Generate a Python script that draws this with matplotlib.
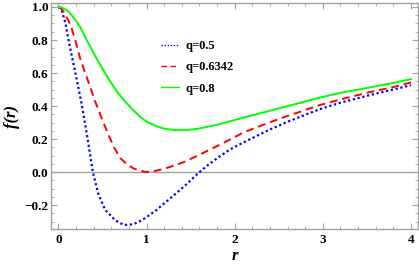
import matplotlib
matplotlib.use("Agg")
import matplotlib.pyplot as plt
from matplotlib.ticker import MultipleLocator

# values
r_q05 = [0, 0.02, 0.04, 0.08, 0.11, 0.16, 0.2, 0.26, 0.325, 0.39, 0.45, 0.53, 0.64, 0.7,
         0.75, 0.8, 0.85, 0.9, 0.98, 1.1, 1.2, 1.3, 1.43, 1.5, 1.6, 1.71, 1.83, 1.94,
         2.1, 2.39, 2.6, 2.96, 3.2, 3.53, 3.8, 4.0]
f_q05 = [1.0, 0.993, 0.975, 0.9, 0.81, 0.68, 0.58, 0.42, 0.22, 0.0, -0.129, -0.23, -0.29, -0.31,
         -0.32, -0.32, -0.315, -0.305, -0.28, -0.235, -0.19, -0.145, -0.085, -0.05, 0.0, 0.048, 0.095, 0.135,
         0.18, 0.255, 0.305, 0.38, 0.42, 0.466, 0.50, 0.526]

r_q06 = [0, 0.03, 0.06, 0.11, 0.15, 0.19, 0.245, 0.29, 0.35, 0.41, 0.48, 0.56, 0.63, 0.7,
         0.77, 0.85, 0.92, 1.0, 1.1, 1.2, 1.3, 1.43, 1.6, 1.83, 1.94, 2.1, 2.39, 2.6,
         2.96, 3.2, 3.53, 3.8, 4.0]
f_q06 = [1.0, 0.99, 0.97, 0.92, 0.87, 0.8, 0.69, 0.62, 0.53, 0.436, 0.34, 0.234, 0.15, 0.085,
         0.05, 0.022, 0.008, 0.0, 0.007, 0.02, 0.037, 0.062, 0.105, 0.165, 0.195, 0.24, 0.3, 0.34,
         0.405, 0.44, 0.484, 0.515, 0.543]

r_q08 = [0, 0.04, 0.08, 0.12, 0.15, 0.188, 0.25, 0.32, 0.37, 0.42, 0.5, 0.585, 0.66, 0.735,
         0.83, 0.925, 1.0, 1.11, 1.2, 1.32, 1.45, 1.6, 1.83, 2.1, 2.39, 2.96, 3.2, 3.53,
         3.8, 4.0]
f_q08 = [1.0, 0.996, 0.985, 0.97, 0.95, 0.925, 0.875, 0.8, 0.75, 0.7, 0.625, 0.55, 0.49, 0.44,
         0.385, 0.335, 0.305, 0.278, 0.263, 0.254, 0.254, 0.264, 0.29, 0.33, 0.37, 0.45, 0.48, 0.512,
         0.54, 0.563]

labels = ["q=0.5", "q=0.6342", "q=0.8"]

plt.rcParams['font.family'] = ['Liberation Serif', 'DejaVu Serif']
plt.rcParams['font.weight'] = 'bold'

fig = plt.figure(figsize=(4.19, 2.70), dpi=100)
ax = fig.add_axes([0.1217, 0.1507, 0.876, 0.8393])

gray = '#a0a0a0'
ax.axhline(0, color=gray, lw=1.0, zorder=1)

ax.plot(r_q05, f_q05, color='#0000ff', lw=1.6, linestyle=(0, (1, 1.2)), label=labels[0])
ax.plot(r_q06, f_q06, color='#ff0000', lw=1.4, linestyle=(0, (4, 2.5)), label=labels[1])
ax.plot(r_q08, f_q08, color='#00ff00', lw=1.4, label=labels[2])

ax.set_xlim(-0.085, 4.08)
ax.set_ylim(-0.347, 1.026)

ax.xaxis.set_major_locator(MultipleLocator(1))
ax.xaxis.set_minor_locator(MultipleLocator(0.2))
ax.yaxis.set_major_locator(MultipleLocator(0.2))
ax.yaxis.set_minor_locator(MultipleLocator(0.05))
ax.yaxis.set_major_formatter(plt.FuncFormatter(lambda v, p: f"{v:.1f}".replace('-', '\u2212')))

ax.tick_params(which='both', direction='in', top=True, right=True, color=gray,
               labelsize=9.5, labelcolor='black')
ax.tick_params(which='major', length=4.5, width=0.8)
ax.tick_params(which='minor', length=2.5, width=0.6)
ax.tick_params(axis='y', pad=2)
for s in ax.spines.values():
    s.set_color(gray)
    s.set_linewidth(1.0)

ax.set_xlabel('r', fontsize=12, style='italic', fontweight='bold', labelpad=1)
ax.set_ylabel('f(r)', fontsize=12, style='italic', fontweight='bold', labelpad=3)

leg = ax.legend(loc='upper left', bbox_to_anchor=(0.27, 0.885), frameon=False,
                fontsize=9, handlelength=1.4, handletextpad=0.5, labelspacing=0.75)
for t in leg.get_texts():
    t.set_fontweight('bold')
for h in leg.get_lines():
    h.set_linewidth(1.0)

fig.savefig('out.png', dpi=100)
